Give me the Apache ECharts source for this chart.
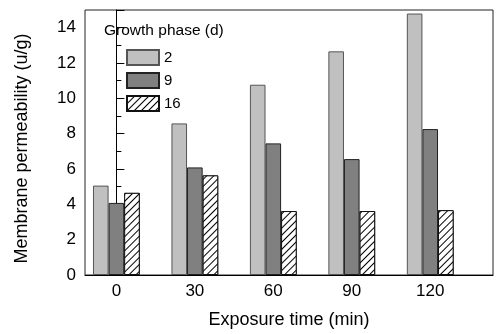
<!DOCTYPE html>
<html>
<head>
<meta charset="utf-8">
<script src="https://cdn.jsdelivr.net/npm/echarts@6/dist/echarts.min.js"></script>
<style>html,body{margin:0;padding:0;background:#fff;}#c{width:500px;height:334px;}</style>
</head>
<body>
<div id="c"></div>
<script>
var exposureTimes = [0, 30, 60, 90, 120];
var xTickLabels = [0, 30, 60, 90, 120];
var seriesNames = ['2', '9', '16'];
var phase2 = [5.06, 8.58, 10.77, 12.66, 14.8];
var phase9 = [4.08, 6.09, 7.45, 6.56, 8.26];
var phase16 = [4.65, 5.64, 3.62, 3.62, 3.67];

function pairs(vals) { return exposureTimes.map(function (t, i) { return [t, vals[i]]; }); }

var FONT = 'Liberation Sans';
var chart = echarts.init(document.getElementById('c'), null, {renderer: 'canvas'});
var hatch = {
  symbol: 'rect', symbolSize: 1, dashArrayX: [1, 0], dashArrayY: [1, 3.5],
  rotation: -Math.PI / 4, color: '#000', backgroundColor: '#fff'
};
chart.setOption({
  backgroundColor: '#fff',
  animation: false,
  grid: {left: 85, right: 7, top: 10, bottom: 56, show: true, borderColor: '#222', borderWidth: 1},
  xAxis: {
    type: 'value', min: -12, max: 144,
    name: 'Exposure time (min)', nameLocation: 'middle', nameGap: 36,
    nameTextStyle: {fontFamily: FONT, fontSize: 18, color: '#000'},
    axisLine: {show: true, lineStyle: {color: '#000', width: 1}},
    axisTick: {show: false},
    splitLine: {show: false},
    axisLabel: {customValues: xTickLabels, fontFamily: FONT, fontSize: 17, color: '#000', margin: 8}
  },
  yAxis: {
    type: 'value', min: 0, max: 15, interval: 2,
    name: 'Membrane permeability (u/g)', nameLocation: 'middle', nameGap: 54,
    nameTextStyle: {fontFamily: FONT, fontSize: 18, color: '#000', padding: [0, 12, 0, 0]},
    axisLine: {show: true, lineStyle: {color: '#000', width: 1}},
    axisTick: {show: true, inside: true, length: 8, lineStyle: {color: '#000'}},
    minorTick: {show: true, splitNumber: 2, length: 5, lineStyle: {color: '#000'}},
    splitLine: {show: false},
    axisLabel: {fontFamily: FONT, fontSize: 17, color: '#000', margin: 9,
      formatter: function (v) { return v > 14 ? '' : String(v); }}
  },
  legend: {
    orient: 'vertical', left: 121, top: 44, itemWidth: 32, itemHeight: 15, itemGap: 6,
    icon: 'rect',
    data: seriesNames,
    textStyle: {fontFamily: FONT, fontSize: 15, color: '#000'}
  },
  graphic: [{
    type: 'text', left: 104, top: 23,
    style: {text: 'Growth phase (d)', font: '15.5px "Liberation Sans"', fill: '#000'}
  }],
  series: [
    {name: seriesNames[0], type: 'bar', data: pairs(phase2), barWidth: 15.6, barGap: '0%',
     itemStyle: {color: '#c0c0c0', borderColor: '#555', borderWidth: 1}},
    {name: seriesNames[1], type: 'bar', data: pairs(phase9), barWidth: 15.6, barGap: '0%',
     itemStyle: {color: '#808080', borderColor: '#222', borderWidth: 1}},
    {name: seriesNames[2], type: 'bar', data: pairs(phase16), barWidth: 15.6, barGap: '0%',
     itemStyle: {color: '#fff', borderColor: '#111', borderWidth: 1, decal: hatch}}
  ]
});
</script>
</body>
</html>
